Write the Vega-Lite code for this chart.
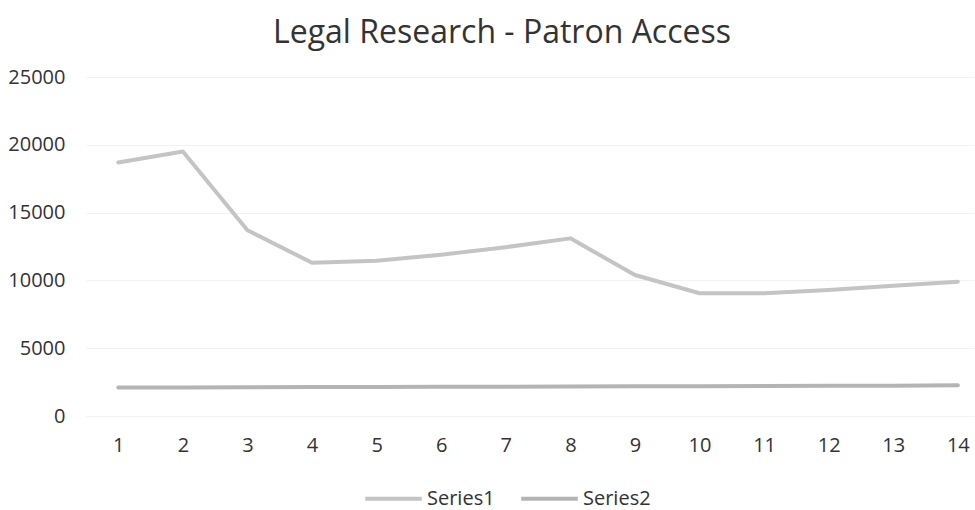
{
  "$schema": "https://vega.github.io/schema/vega-lite/v6.json",
  "autosize": "none",
  "width": 888,
  "height": 339,
  "padding": {"left": 86, "top": 77, "right": 1, "bottom": 94},
  "background": "white",
  "config": {
    "view": {"stroke": null},
    "font": "Open Sans"
  },
  "title": {
    "text": "Legal Research - Patron Access",
    "fontSize": 32,
    "font": "Open Sans",
    "fontWeight": "normal",
    "color": "#333333",
    "anchor": "middle",
    "dx": -28,
    "offset": 17
  },
  "data": {
    "values": [
      {"period": 1, "series": "Series1", "value": 18700},
      {"period": 2, "series": "Series1", "value": 19500},
      {"period": 3, "series": "Series1", "value": 13700},
      {"period": 4, "series": "Series1", "value": 11300},
      {"period": 5, "series": "Series1", "value": 11450},
      {"period": 6, "series": "Series1", "value": 11900},
      {"period": 7, "series": "Series1", "value": 12450},
      {"period": 8, "series": "Series1", "value": 13100},
      {"period": 9, "series": "Series1", "value": 10400},
      {"period": 10, "series": "Series1", "value": 9050},
      {"period": 11, "series": "Series1", "value": 9050},
      {"period": 12, "series": "Series1", "value": 9300},
      {"period": 13, "series": "Series1", "value": 9600},
      {"period": 14, "series": "Series1", "value": 9900},
      {"period": 1, "series": "Series2", "value": 2100},
      {"period": 2, "series": "Series2", "value": 2110},
      {"period": 3, "series": "Series2", "value": 2120},
      {"period": 4, "series": "Series2", "value": 2130},
      {"period": 5, "series": "Series2", "value": 2140},
      {"period": 6, "series": "Series2", "value": 2150},
      {"period": 7, "series": "Series2", "value": 2160},
      {"period": 8, "series": "Series2", "value": 2170},
      {"period": 9, "series": "Series2", "value": 2190},
      {"period": 10, "series": "Series2", "value": 2200},
      {"period": 11, "series": "Series2", "value": 2210},
      {"period": 12, "series": "Series2", "value": 2230},
      {"period": 13, "series": "Series2", "value": 2240},
      {"period": 14, "series": "Series2", "value": 2260}
    ]
  },
  "mark": {"type": "line", "strokeWidth": 4, "strokeCap": "round", "strokeJoin": "round"},
  "encoding": {
    "x": {
      "field": "period",
      "type": "quantitative",
      "scale": {"domain": [0.5, 14.25], "nice": false, "zero": false},
      "axis": {
        "title": null,
        "values": [1,2,3,4,5,6,7,8,9,10,11,12,13,14],
        "grid": false,
        "domain": false,
        "ticks": false,
        "labelFontSize": 20,
        "labelColor": "#333333",
        "labelPadding": 19,
        "labelFont": "Open Sans"
      }
    },
    "y": {
      "field": "value",
      "type": "quantitative",
      "scale": {"domain": [0, 25000], "nice": false},
      "axis": {
        "title": null,
        "values": [0, 5000, 10000, 15000, 20000, 25000],
        "format": "d",
        "grid": true,
        "gridColor": "#f2f2f2",
        "gridWidth": 1,
        "domain": false,
        "ticks": false,
        "labelFontSize": 20,
        "labelColor": "#333333",
        "labelPadding": 21,
        "labelFont": "Open Sans"
      }
    },
    "color": {
      "field": "series",
      "type": "nominal",
      "scale": {"domain": ["Series1", "Series2"], "range": ["#c4c4c4", "#b4b4b4"]},
      "legend": {
        "title": null,
        "orient": "none",
        "direction": "horizontal",
        "legendX": 277,
        "legendY": 391,
        "symbolType": "stroke",
        "symbolSize": 3200,
        "symbolStrokeWidth": 4,
        "labelFontSize": 20,
        "labelFont": "Open Sans",
        "labelColor": "#333333",
        "labelOffset": 3,
        "columnPadding": 18
      }
    }
  }
}
